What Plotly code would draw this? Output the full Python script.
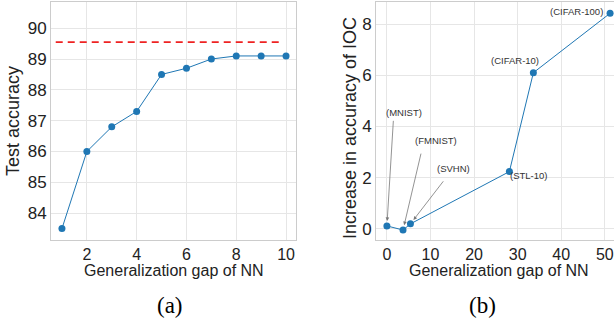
import plotly.graph_objects as go

# Panel (a)
gap_a = [1, 2, 3, 4, 5, 6, 7, 8, 9, 10]
acc_a = [83.5, 86.0, 86.8, 87.3, 88.5, 88.7, 89.0, 89.1, 89.1, 89.1]
ref_acc = 89.55
ref_span = [0.75, 9.86]

# Panel (b)
datasets = ["MNIST", "FMNIST", "SVHN", "STL-10", "CIFAR-10", "CIFAR-100"]
gap_b = [0.0, 3.7, 5.4, 28.1, 33.6, 51.2]
inc_b = [0.12, -0.04, 0.2, 2.24, 6.1, 8.42]

# label positions (text centre) in data coords
label_x = [4.0, 11.3, 15.3, 32.4, 29.3, 43.5]
label_y = [4.55, 3.47, 2.36, 2.08, 6.57, 8.49]
# arrow tails for first three labels
arrow_tail_x = [1.5, 7.9, 13.2]
arrow_tail_y = [4.28, 3.0, 1.92]

blue = "#1f77b4"
W, H = 614, 322
def px(x): return x / W
def py(y): return 1 - y / H

fig = go.Figure()
fig.add_trace(go.Scatter(x=gap_a, y=acc_a, mode="lines+markers",
                         line=dict(color=blue, width=1),
                         marker=dict(color=blue, size=7),
                         xaxis="x", yaxis="y", showlegend=False))
fig.add_trace(go.Scatter(x=ref_span, y=[ref_acc, ref_acc], mode="lines",
                         line=dict(color="#ee2222", width=1.6, dash="7px,5px"),
                         xaxis="x", yaxis="y", showlegend=False))
fig.add_trace(go.Scatter(x=gap_b, y=inc_b, mode="lines+markers",
                         line=dict(color=blue, width=1),
                         marker=dict(color=blue, size=7),
                         xaxis="x2", yaxis="y2", showlegend=False))

lab_font = dict(family="Liberation Sans, Arial", size=9.5, color="#333")
for i, name in enumerate(datasets):
    fig.add_annotation(x=label_x[i], y=label_y[i], xref="x2", yref="y2",
                       text="(" + name + ")", showarrow=False, font=lab_font)
for i in range(3):
    fig.add_annotation(x=gap_b[i], y=inc_b[i], xref="x2", yref="y2",
                       ax=arrow_tail_x[i], ay=arrow_tail_y[i], axref="x2", ayref="y2",
                       text="", showarrow=True, arrowhead=2, arrowsize=0.9,
                       arrowwidth=0.8, arrowcolor="#777", standoff=5)

# captions and axis titles
title_font = dict(family="Liberation Sans, Arial", color="#222")
texts = [
    ("(a)", 170, 305, 0, dict(family="Liberation Serif, Times New Roman", size=23, color="black")),
    ("(b)", 482, 305, 0, dict(family="Liberation Serif, Times New Roman", size=23, color="black")),
    ("Generalization gap of NN", 174, 270, 0, dict(size=16, **title_font)),
    ("Generalization gap of NN", 499, 270, 0, dict(size=16, **title_font)),
    ("Test accuracy", 13, 121, -90, dict(size=18, **title_font)),
    ("Increase in accuracy of IOC", 350, 128, -90, dict(size=18, **title_font)),
]
for t, x, y, ang, f in texts:
    fig.add_annotation(x=px(x), y=py(y), xref="paper", yref="paper", text=t,
                       showarrow=False, textangle=ang, font=f,
                       xanchor="center", yanchor="middle")

axis_common = dict(showline=True, linecolor="#cccccc", linewidth=1, mirror=True,
                   showgrid=True, gridcolor="#e6e6e6", gridwidth=1, zeroline=False,
                   ticks="", automargin=False, ticklabeloverflow="allow")
xfont = dict(family="Liberation Sans, Arial", size=16, color="#222")
yfont = dict(family="Liberation Sans, Arial", size=17, color="#222")

fig.update_layout(
    width=W, height=H, margin=dict(l=0, r=0, t=0, b=0),
    paper_bgcolor="white", plot_bgcolor="white",
    xaxis=dict(domain=[px(51), px(296)], range=[0.56, 10.4], tickfont=xfont,
               tickvals=[2, 4, 6, 8, 10], anchor="y", **axis_common),
    yaxis=dict(domain=[py(240), py(2)], range=[83.13, 90.85], tickfont=yfont,
               tickvals=[84, 85, 86, 87, 88, 89, 90], anchor="x", **axis_common),
    xaxis2=dict(domain=[px(376), 1.0], range=[-2.5, 52.1], tickfont=xfont,
                tickvals=[0, 10, 20, 30, 40, 50], anchor="y2", **axis_common),
    yaxis2=dict(domain=[py(240), py(2)], range=[-0.43, 8.86], tickfont=yfont,
                tickvals=[0, 2, 4, 6, 8], anchor="x2", **axis_common),
)

fig.write_html("out.html", config={"displayModeBar": False},
               post_script="document.body.style.margin='0';document.body.style.overflow='hidden';")
